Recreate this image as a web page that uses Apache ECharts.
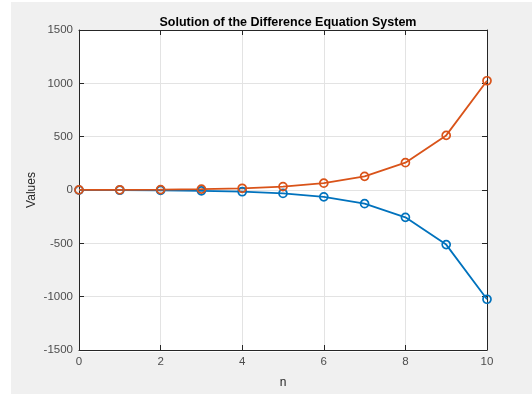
<!DOCTYPE html>
<html><head><meta charset="utf-8">
<script src="https://cdn.jsdelivr.net/npm/echarts@6/dist/echarts.min.js"></script>
<style>html,body{margin:0;padding:0;background:#fff}#c{width:532px;height:394px}</style>
</head><body><div id="c"></div>
<script>
const nValues = [0,1,2,3,4,5,6,7,8,9,10];
const series1 = [-1,-2,-4,-8,-16,-32,-64,-128,-256,-512,-1024];
const series2 = [1,2,4,8,16,32,64,128,256,512,1024];
const xTicks = [0,2,4,6,8,10];
const yTicks = [-1500,-1000,-500,0,500,1000,1500];
const titleText = 'Solution of the Difference Equation System';

const chart = echarts.init(document.getElementById('c'), null, {renderer:'canvas'});
const font = 'Liberation Sans, Arial, Helvetica, sans-serif';
const axisCol = '#262626';
const gridL = 79, gridT = 30, gridR = 45, gridB = 42;
function xAxisBase(pos, showLabel){
  return {type:'value', position:pos, min:xTicks[0], max:xTicks[xTicks.length-1], interval:xTicks[1]-xTicks[0],
    axisLine:{show:true,onZero:false,lineStyle:{color:axisCol,width:1}},
    axisTick:{show:true,inside:true,length:5,lineStyle:{color:axisCol}},
    axisLabel:{show:showLabel,color:'#4d4d4d',fontFamily:font,fontSize:11.5,margin:6,formatter:v=>String(v)},
    splitLine:{show:showLabel,lineStyle:{color:'#e3e3e3',width:1}}};
}
function yAxisBase(pos, showLabel){
  return {type:'value', position:pos, min:yTicks[0], max:yTicks[yTicks.length-1], interval:yTicks[1]-yTicks[0],
    axisLine:{show:true,onZero:false,lineStyle:{color:axisCol,width:1}},
    axisTick:{show:true,inside:true,length:5,lineStyle:{color:axisCol}},
    axisLabel:{show:showLabel,color:'#4d4d4d',fontFamily:font,fontSize:11.5,margin:6,formatter:v=>String(v)},
    splitLine:{show:showLabel,lineStyle:{color:'#e3e3e3',width:1}}};
}
const xa = xAxisBase('bottom', true);
xa.name='n'; xa.nameLocation='middle'; xa.nameGap=27;
xa.nameTextStyle={color:'#262626',fontFamily:font,fontSize:12};
const ya = yAxisBase('left', true);
ya.name='Values'; ya.nameLocation='middle'; ya.nameGap=41; ya.nameMoveOverlap=false;
ya.nameTextStyle={color:'#262626',fontFamily:font,fontSize:12};

function mk(data, color){
  return {type:'line', data:nValues.map((n,i)=>[n,data[i]]), symbol:'circle', symbolSize:8,
    showSymbol:true,
    lineStyle:{color:color,width:1.8}, itemStyle:{color:'none',borderColor:color,borderWidth:1.7, opacity:1},
    emphasis:{disabled:true}, animation:false, xAxisIndex:0, yAxisIndex:0};
}
chart.setOption({
  backgroundColor:'#ffffff',
  animation:false,
  graphic:[{type:'rect', shape:{x:11,y:2,width:532,height:400}, style:{fill:'#f0f0f0'}, z:-10, silent:true},
           {type:'rect', shape:{x:gridL,y:gridT,width:532-gridL-gridR,height:394-gridT-gridB}, style:{fill:'#ffffff'}, z:-9, silent:true}],
  title:{text:titleText, left:283, textAlign:'center', top:11,
    textStyle:{fontFamily:font,fontSize:12.5,fontWeight:'bold',color:'#000'}},
  grid:{left:gridL, top:gridT, right:gridR, bottom:gridB},
  xAxis:[xa, xAxisBase('top', false)],
  yAxis:[ya, yAxisBase('right', false)],
  series:[mk(series1,'#0072BD'), mk(series2,'#D95319')]
});
</script></body></html>
